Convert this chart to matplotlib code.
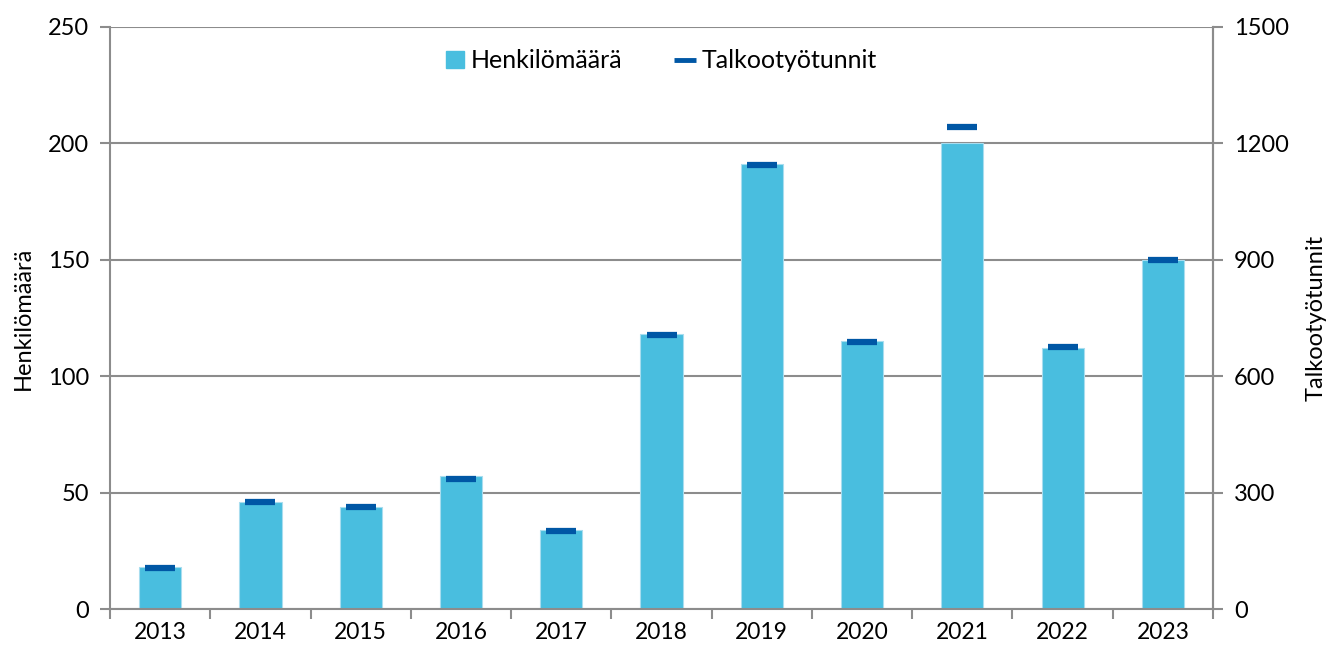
import matplotlib
matplotlib.use("Agg")
import matplotlib.pyplot as plt
import numpy as np
from matplotlib.ticker import FixedLocator
from matplotlib.lines import Line2D
from matplotlib.patches import Patch

years = ["2013", "2014", "2015", "2016", "2017", "2018", "2019", "2020", "2021", "2022", "2023"]
henkilomaara = [18, 46, 44, 57, 34, 118, 191, 115, 200, 112, 150]
talkootyotunnit = [107, 276, 262, 336, 202, 706, 1145, 688, 1243, 675, 900]

left_ticks = [0, 50, 100, 150, 200, 250]
right_ticks = [0, 300, 600, 900, 1200, 1500]

plt.rcParams['font.family'] = ['Lato', 'DejaVu Sans']

bar_color = '#49BEDF'
mark_color = '#0057A5'
grid_color = '#8C8C8C'

fig = plt.figure(figsize=(13.26, 6.57), dpi=100)
ax = fig.add_axes([0.083, 0.073, 0.8318, 0.886])
x = np.arange(len(years))

ax.bar(x, henkilomaara, width=0.42, color=bar_color, edgecolor='#A8DDEF', linewidth=0.8,
       label='Henkilömäärä', zorder=2)
ax.set_ylim(0, 250)
ax.set_xlim(-0.5, len(years) - 0.5)
ax.set_yticks(left_ticks)
ax.yaxis.grid(True, color=grid_color, linewidth=1.5, zorder=0)
ax.set_axisbelow(True)
ax.set_xticks(x)
ax.set_xticklabels(years)
ax.xaxis.set_minor_locator(FixedLocator(np.arange(-0.5, len(years), 1.0)))
ax.tick_params(axis='x', which='major', length=0, labelsize=16.5, pad=9)
ax.tick_params(axis='x', which='minor', length=7, width=1.5, color=grid_color)
ax.tick_params(axis='y', length=7, width=1.5, color=grid_color, labelsize=17, pad=8)
ax.set_ylabel('Henkilömäärä', fontsize=17, labelpad=10)

for s in ['left', 'right', 'bottom']:
    ax.spines[s].set_color(grid_color)
    ax.spines[s].set_linewidth(1.5)
ax.spines['top'].set_visible(False)

ax2 = ax.twinx()
ax2.plot(x, talkootyotunnit, linestyle='none', marker='_', markersize=22, mew=4.5,
         color=mark_color, label='Talkootyötunnit', zorder=3)
ax2.set_ylim(0, 1500)
ax2.set_yticks(right_ticks)
ax2.tick_params(axis='y', length=7, width=1.5, color=grid_color, labelsize=17, pad=8)
ax2.set_ylabel('Talkootyötunnit', fontsize=17, labelpad=12)
for s in ['left', 'right', 'bottom', 'top']:
    ax2.spines[s].set_visible(False)
ax2.spines['right'].set_visible(True)
ax2.spines['right'].set_color(grid_color)
ax2.spines['right'].set_linewidth(1.5)

handles = [Patch(facecolor=bar_color, edgecolor=bar_color),
           Line2D([], [], linestyle='none', marker='_', markersize=16, mew=3.5, color=mark_color)]
leg = ax.legend(handles, ['Henkilömäärä', 'Talkootyötunnit'], loc='upper center',
                bbox_to_anchor=(0.5, 1.0), ncol=2, frameon=False, fontsize=18,
                handlelength=0.7, handletextpad=0.3, columnspacing=2.15)

fig.savefig('out.png', dpi=100)
